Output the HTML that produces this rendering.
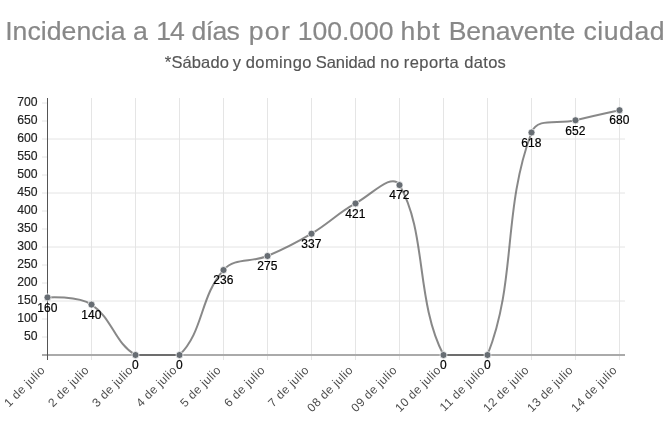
<!DOCTYPE html>
<html lang="es">
<head>
<meta charset="utf-8">
<title>Incidencia a 14 días por 100.000 hbt Benavente ciudad</title>
<style>
html,body{margin:0;padding:0;background:#fff;}
body{width:670px;height:447px;overflow:hidden;font-family:"Liberation Sans",sans-serif;}
svg{display:block;}
svg text{font-family:"Liberation Sans",sans-serif;}
</style>
</head>
<body>
<svg width="670" height="447" viewBox="0 0 670 447">
<rect width="670" height="447" fill="#ffffff"/>
<text y="39.8" font-size="26.6" fill="#888888" stroke="#888888" stroke-width="0.2"><tspan x="5.13" letter-spacing="0.062">Incidencia</tspan> <tspan x="133.09" letter-spacing="0.0">a</tspan> <tspan x="156.37" letter-spacing="-1.232">14</tspan> <tspan x="191.48" letter-spacing="-0.615">días</tspan> <tspan x="248.74" letter-spacing="1.3">por</tspan> <tspan x="297.81" letter-spacing="-0.06">100.000</tspan> <tspan x="400.41" letter-spacing="1.1">hbt</tspan> <tspan x="448.65" letter-spacing="-0.057">Benavente</tspan> <tspan x="583.46" letter-spacing="0.554">ciudad</tspan></text>
<text y="68.4" font-size="16.5" fill="#555555" stroke="#555555" stroke-width="0.15"><tspan x="164.86" letter-spacing="0.118">*Sábado</tspan> <tspan x="232.77" letter-spacing="0.0">y</tspan> <tspan x="245.72" letter-spacing="0.406">domingo</tspan> <tspan x="315.85" letter-spacing="-0.105">Sanidad</tspan> <tspan x="380.18" letter-spacing="0.724">no</tspan> <tspan x="403.72" letter-spacing="0.467">reporta</tspan> <tspan x="464.31" letter-spacing="0.3">datos</tspan></text>
<g fill="none">
<line x1="91.5" y1="98" x2="91.5" y2="360" stroke="#e5e5e5" stroke-width="1"/>
<line x1="135.5" y1="98" x2="135.5" y2="360" stroke="#e5e5e5" stroke-width="1"/>
<line x1="179.5" y1="98" x2="179.5" y2="360" stroke="#e5e5e5" stroke-width="1"/>
<line x1="223.5" y1="98" x2="223.5" y2="360" stroke="#e5e5e5" stroke-width="1"/>
<line x1="267.5" y1="98" x2="267.5" y2="360" stroke="#e5e5e5" stroke-width="1"/>
<line x1="311.5" y1="98" x2="311.5" y2="360" stroke="#e5e5e5" stroke-width="1"/>
<line x1="355.5" y1="98" x2="355.5" y2="360" stroke="#e5e5e5" stroke-width="1"/>
<line x1="399.5" y1="98" x2="399.5" y2="360" stroke="#e5e5e5" stroke-width="1"/>
<line x1="443.5" y1="98" x2="443.5" y2="360" stroke="#e5e5e5" stroke-width="1"/>
<line x1="487.5" y1="98" x2="487.5" y2="360" stroke="#e5e5e5" stroke-width="1"/>
<line x1="531.5" y1="98" x2="531.5" y2="360" stroke="#e5e5e5" stroke-width="1"/>
<line x1="575.5" y1="98" x2="575.5" y2="360" stroke="#e5e5e5" stroke-width="1"/>
<line x1="619.5" y1="98" x2="619.5" y2="360" stroke="#e5e5e5" stroke-width="1"/>
<line x1="42" y1="337.0" x2="47" y2="337.0" stroke="#e4e4e4" stroke-width="1"/>
<line x1="42" y1="319.0" x2="47" y2="319.0" stroke="#e4e4e4" stroke-width="1"/>
<line x1="42" y1="301.0" x2="625" y2="301.0" stroke="#e4e4e4" stroke-width="1"/>
<line x1="42" y1="283.0" x2="47" y2="283.0" stroke="#e4e4e4" stroke-width="1"/>
<line x1="42" y1="265.0" x2="47" y2="265.0" stroke="#e4e4e4" stroke-width="1"/>
<line x1="42" y1="247.0" x2="625" y2="247.0" stroke="#e4e4e4" stroke-width="1"/>
<line x1="42" y1="229.0" x2="47" y2="229.0" stroke="#e4e4e4" stroke-width="1"/>
<line x1="42" y1="211.0" x2="47" y2="211.0" stroke="#e4e4e4" stroke-width="1"/>
<line x1="42" y1="193.0" x2="625" y2="193.0" stroke="#e4e4e4" stroke-width="1"/>
<line x1="42" y1="175.0" x2="47" y2="175.0" stroke="#e4e4e4" stroke-width="1"/>
<line x1="42" y1="157.0" x2="47" y2="157.0" stroke="#e4e4e4" stroke-width="1"/>
<line x1="42" y1="139.0" x2="625" y2="139.0" stroke="#e4e4e4" stroke-width="1"/>
<line x1="42" y1="121.0" x2="47" y2="121.0" stroke="#e4e4e4" stroke-width="1"/>
<line x1="42" y1="103.0" x2="47" y2="103.0" stroke="#e4e4e4" stroke-width="1"/>
<line x1="42" y1="355" x2="625" y2="355" stroke="#aaaaaa" stroke-width="2"/>
<line x1="47.5" y1="98" x2="47.5" y2="360" stroke="#555555" stroke-width="1"/>
</g>
<g font-size="12.2" fill="#222222" stroke="#222222" stroke-width="0.15" text-anchor="end">
<text x="37.6" y="339.9">50</text>
<text x="37.6" y="321.9">100</text>
<text x="37.6" y="303.9">150</text>
<text x="37.6" y="285.9">200</text>
<text x="37.6" y="267.9">250</text>
<text x="37.6" y="249.9">300</text>
<text x="37.6" y="231.9">350</text>
<text x="37.6" y="213.9">400</text>
<text x="37.6" y="195.9">450</text>
<text x="37.6" y="177.9">500</text>
<text x="37.6" y="159.9">550</text>
<text x="37.6" y="141.9">600</text>
<text x="37.6" y="123.9">650</text>
<text x="37.6" y="105.9">700</text>
</g>
<g font-size="12" fill="#4d4d4d" text-anchor="end" letter-spacing="0.4">
<text transform="translate(42.9,368.0) rotate(-45)" x="0" y="4">1 de julio</text>
<text transform="translate(86.9,368.0) rotate(-45)" x="0" y="4">2 de julio</text>
<text transform="translate(130.9,368.0) rotate(-45)" x="0" y="4">3 de julio</text>
<text transform="translate(174.9,368.0) rotate(-45)" x="0" y="4">4 de julio</text>
<text transform="translate(218.9,368.0) rotate(-45)" x="0" y="4">5 de julio</text>
<text transform="translate(262.9,368.0) rotate(-45)" x="0" y="4">6 de julio</text>
<text transform="translate(306.9,368.0) rotate(-45)" x="0" y="4">7 de julio</text>
<text transform="translate(350.9,368.0) rotate(-45)" x="0" y="4">08 de julio</text>
<text transform="translate(394.9,368.0) rotate(-45)" x="0" y="4">09 de julio</text>
<text transform="translate(438.9,368.0) rotate(-45)" x="0" y="4">10 de julio</text>
<text transform="translate(482.9,368.0) rotate(-45)" x="0" y="4">11 de julio</text>
<text transform="translate(526.9,368.0) rotate(-45)" x="0" y="4">12 de julio</text>
<text transform="translate(570.9,368.0) rotate(-45)" x="0" y="4">13 de julio</text>
<text transform="translate(614.9,368.0) rotate(-45)" x="0" y="4">14 de julio</text>
</g>
<path d="M47.50,297.40 C47.50,297.40 77.42,295.39 91.50,304.60 C112.62,318.43 114.27,342.84 135.50,355.00 C149.47,355.00 168.41,355.00 179.50,355.00 C203.61,331.72 199.76,296.75 223.50,270.04 C234.96,257.15 250.48,263.03 267.50,256.00 C285.68,248.49 294.59,243.78 311.50,233.68 C329.79,222.75 336.91,213.71 355.50,203.44 C372.11,194.27 391.98,172.13 399.50,185.08 C427.18,232.75 415.36,300.66 443.50,355.00 C450.56,355.00 481.78,355.00 487.50,355.00 C516.98,280.47 502.20,210.67 531.50,132.52 C537.40,116.78 557.80,124.77 575.50,120.28 C593.00,115.84 619.50,110.20 619.50,110.20" fill="none" stroke="#4f4f4f" stroke-opacity="0.68" stroke-width="2" stroke-linejoin="round" stroke-linecap="butt"/>
<g fill="#676d73" stroke="#ffffff" stroke-width="0.7">
<circle cx="47.50" cy="297.40" r="3.5"/>
<circle cx="91.50" cy="304.60" r="3.5"/>
<circle cx="135.50" cy="355.00" r="3.5"/>
<circle cx="179.50" cy="355.00" r="3.5"/>
<circle cx="223.50" cy="270.04" r="3.5"/>
<circle cx="267.50" cy="256.00" r="3.5"/>
<circle cx="311.50" cy="233.68" r="3.5"/>
<circle cx="355.50" cy="203.44" r="3.5"/>
<circle cx="399.50" cy="185.08" r="3.5"/>
<circle cx="443.50" cy="355.00" r="3.5"/>
<circle cx="487.50" cy="355.00" r="3.5"/>
<circle cx="531.50" cy="132.52" r="3.5"/>
<circle cx="575.50" cy="120.28" r="3.5"/>
<circle cx="619.50" cy="110.20" r="3.5"/>
</g>
<g font-size="12" fill="#000000" stroke="#000000" stroke-width="0.2" text-anchor="middle">
<text x="47.3" y="311.6">160</text>
<text x="91.3" y="318.8">140</text>
<text x="135.3" y="369.2">0</text>
<text x="179.3" y="369.2">0</text>
<text x="223.3" y="284.2">236</text>
<text x="267.3" y="270.2">275</text>
<text x="311.3" y="247.9">337</text>
<text x="355.3" y="217.6">421</text>
<text x="399.3" y="199.3">472</text>
<text x="443.3" y="369.2">0</text>
<text x="487.3" y="369.2">0</text>
<text x="531.3" y="146.7">618</text>
<text x="575.3" y="134.5">652</text>
<text x="619.3" y="124.4">680</text>
</g>
</svg>
</body>
</html>
